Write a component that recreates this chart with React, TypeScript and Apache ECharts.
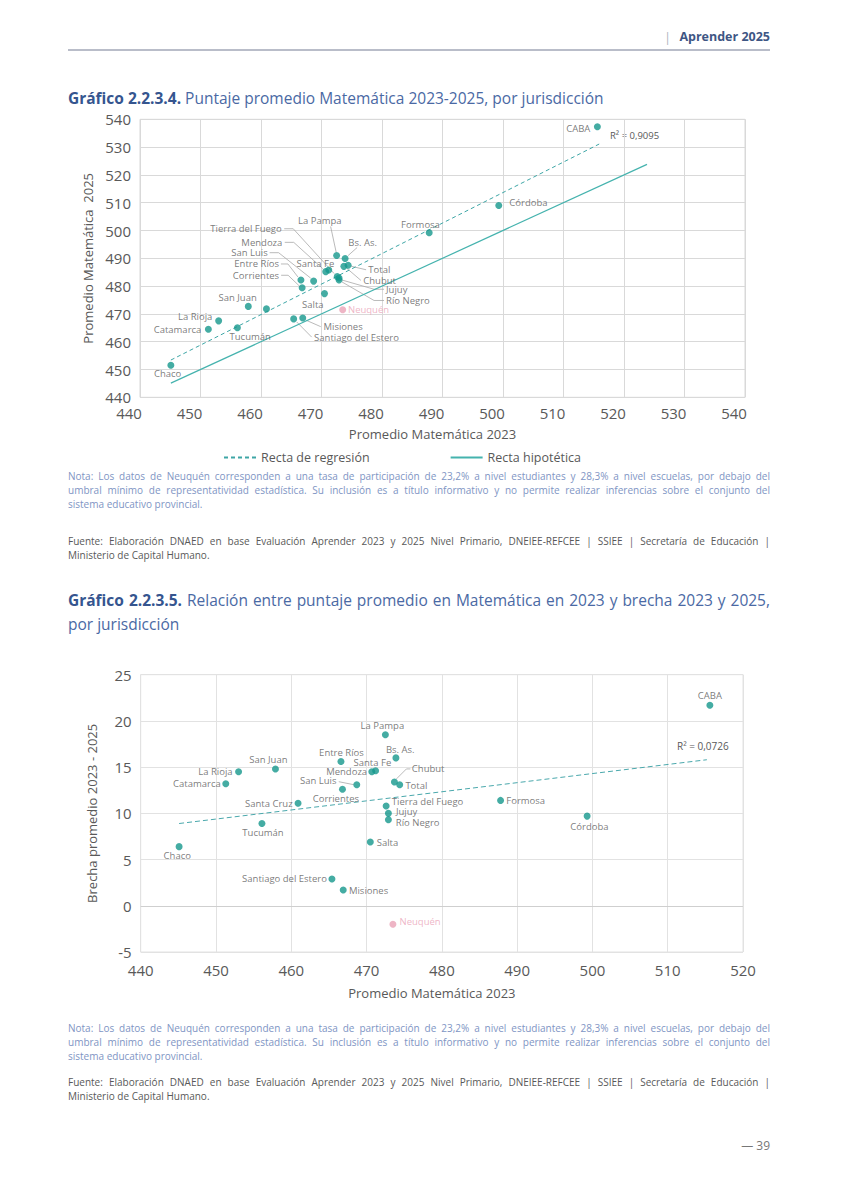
import React, { useEffect, useRef } from "react";
import * as echarts from "echarts";

// ---------- DATA ----------
const jurisdictions = [
  "CABA", "Córdoba", "Formosa", "La Pampa", "Bs. As.", "Chubut", "Total", "Santa Fe",
  "Mendoza", "Tierra del Fuego", "Jujuy", "Río Negro", "Entre Ríos", "San Luis", "Corrientes",
  "Salta", "Neuquén", "Santa Cruz", "Santiago del Estero", "Misiones", "San Juan", "La Rioja",
  "Catamarca", "Tucumán", "Chaco",
];
const math2023 = [
  515.6, 499.3, 487.8, 472.5, 473.9, 473.7, 474.4, 471.2,
  470.7, 472.6, 472.9, 472.9, 466.6, 468.7, 466.8,
  470.5, 473.5, 460.9, 465.4, 466.9, 457.9, 453.0,
  451.3, 456.1, 445.1,
];
const math2025 = [
  537.3, 509.0, 499.2, 491.0, 489.9, 487.1, 487.5, 485.8,
  485.2, 483.4, 482.9, 482.2, 482.2, 481.8, 479.4,
  477.3, 471.5, 471.8, 468.2, 468.5, 472.7, 467.5,
  464.5, 465.0, 451.5,
];
const brecha = [
  21.7, 9.7, 11.4, 18.5, 16.0, 13.4, 13.1, 14.6,
  14.5, 10.8, 10.0, 9.3, 15.6, 13.1, 12.6,
  6.9, -2.0, 11.1, 2.9, 1.7, 14.8, 14.5,
  13.2, 8.9, 6.4,
];
// line end points
const regression1X = [445.1, 515.9];
const regression1Y = [453.4, 531.1];
const hypotheticalX = [445.1, 523.8];
const hypotheticalY = [445.1, 523.8];
const regression2X = [445.1, 515.2];
const regression2Y = [8.9, 15.8];
const r2Chart1 = "R² = 0,9095";
const r2Chart2 = "R² = 0,0726";
const excluded = "Neuquén";
const unlabeled1 = ["Santa Cruz"];

// ---------- LABEL PLACEMENT (styling) ----------
type LP = [number, number, string, number[][]?];
const labels1: Record<string, LP> = {
  "CABA": [-7, 2, "right"],
  "Córdoba": [10.6, -2.7, "left"],
  "Formosa": [-8.7, -8, "center"],
  "La Pampa": [-16.8, -35, "center", [[-0.5, -3.5], [-6, -29]]],
  "Bs. As.": [17.5, -16, "center", [[3, -3], [12, -11]]],
  "Chubut": [19.4, 14, "left", [[3, 2], [17, 14]]],
  "Total": [20.2, 4.5, "left", [[3, 1], [18, 4.5]]],
  "Santa Fe": [-13.3, -6.7, "center"],
  "Mendoza": [-43.4, -29.3, "right", [[-3, -3], [-32, -29.3], [-41, -29.3]]],
  "Tierra del Fuego": [-55.5, -47.9, "right", [[-3, -3], [-44, -47.9], [-53, -47.9]]],
  "Jujuy": [47, 11.2, "left", [[3, 2], [35, 11.2], [45, 11.2]]],
  "Río Negro": [47, 20.5, "left", [[3, 2], [35, 20.5], [45, 20.5]]],
  "Entre Ríos": [-21.9, -16, "right", [[-3, -3], [-13, -16], [-20, -16]]],
  "San Luis": [-45.9, -28.4, "right", [[-3, -3], [-35, -28.4], [-44, -28.4]]],
  "Corrientes": [-23, -12.5, "right", [[-3, -2], [-14, -12.5], [-21, -12.5]]],
  "Salta": [-11.7, 10.6, "center"],
  "Neuquén": [5.3, 0, "left"],
  "Santiago del Estero": [20.4, 18.2, "left", [[3, 3], [18, 18.2]]],
  "Misiones": [20.7, 8.6, "left", [[3, 2], [18, 8.6]]],
  "San Juan": [-10.7, -9, "center"],
  "La Rioja": [-6.3, -4, "right"],
  "Catamarca": [-7, 0, "right"],
  "Tucumán": [12.8, 9, "center"],
  "Chaco": [-3.2, 8, "center"],
};
const labels2: Record<string, LP> = {
  "CABA": [0, -10, "center"],
  "Formosa": [5.7, 0, "left"],
  "Córdoba": [2.3, 10, "center"],
  "La Pampa": [-3, -9, "center"],
  "Entre Ríos": [0.5, -9, "center"],
  "Bs. As.": [4.3, -8, "center"],
  "Santa Fe": [-3.2, -8, "center"],
  "Mendoza": [-4.7, 0, "right"],
  "San Luis": [-20.3, -4, "right", [[-3, 0], [-18, -3]]],
  "Corrientes": [-6.6, 9, "center"],
  "Chubut": [17.4, -13, "left", [[2, -3], [12, -13], [16, -13]]],
  "Total": [5.7, 1, "left"],
  "Tierra del Fuego": [5.7, -4, "left"],
  "Jujuy": [7.6, -1.7, "left"],
  "Río Negro": [7.4, 2.6, "left"],
  "Salta": [6.4, 0, "left"],
  "La Rioja": [-6, 0, "right"],
  "San Juan": [-7.1, -9, "center"],
  "Catamarca": [-5, 0, "right"],
  "Santa Cruz": [-5.4, 0.7, "right"],
  "Tucumán": [1.1, 9, "center"],
  "Chaco": [-1.8, 9, "center"],
  "Santiago del Estero": [-5, 0, "right"],
  "Misiones": [5.7, 0.7, "left"],
  "Neuquén": [6.6, -2.3, "left"],
};

const FONT = "'Open Sans', sans-serif";
const TEAL = "#15978c";
const PINK = "#eaa3b7";
const TXT = "#595959";

function scatterData(xs: number[], ys: number[], lp: Record<string, LP>, hidden: string[]) {
  return jurisdictions.map((name, i) => {
    const l = lp[name];
    const isEx = name === excluded;
    return {
      name,
      value: [xs[i], ys[i]],
      itemStyle: { color: isEx ? PINK : TEAL },
      label: l && !hidden.includes(name)
        ? { show: true, offset: [l[0], l[1]], align: l[2], color: isEx ? PINK : TXT }
        : { show: false },
    };
  });
}

function leaderData(xs: number[], ys: number[], lp: Record<string, LP>) {
  const out: number[][] = [];
  jurisdictions.forEach((name, i) => {
    const l = lp[name];
    if (l && l[3]) out.push([xs[i], ys[i], i]);
  });
  return out;
}

function leaderSeries(xs: number[], ys: number[], lp: Record<string, LP>, axisIdx: number) {
  return {
    type: "custom",
    xAxisIndex: axisIdx,
    yAxisIndex: axisIdx,
    silent: true,
    z: 1,
    data: leaderData(xs, ys, lp),
    renderItem: (params: any, api: any) => {
      const idx = api.value(2);
      const p = api.coord([api.value(0), api.value(1)]);
      const offs = lp[jurisdictions[idx]][3] as number[][];
      return {
        type: "polyline",
        shape: { points: offs.map((o) => [p[0] + o[0], p[1] + o[1]]) },
        style: { stroke: "#a8a8a8", lineWidth: 0.8, fill: null },
      };
    },
  };
}

const baseLabel = {
  position: "inside",
  formatter: "{b}",
  fontSize: 9.5,
  lineHeight: 9,
  fontFamily: FONT,
  color: TXT,
  verticalAlign: "middle",
  textBorderWidth: 0,
  textBorderColor: "transparent",
};

function axisCommon() {
  return {
    type: "value",
    axisLine: { show: false },
    axisTick: { show: false },
    splitLine: { show: true, lineStyle: { color: "#d9d9d9", width: 1 } },
  };
}

function buildOption() {
  return {
    animation: false,
    textStyle: { fontFamily: FONT },
    grid: [
      { left: 140, top: 119.3, width: 605, height: 278, show: true, borderColor: "#d9d9d9", borderWidth: 1 },
      { left: 140.7, top: 674.7, width: 602.3, height: 277.3, show: true, borderColor: "#e2e2e2", borderWidth: 1 },
    ],
    legend: {
      show: true,
      data: ["Recta de regresión", "Recta hipotética"],
      left: 218,
      top: 446,
      itemWidth: 32,
      itemHeight: 10,
      itemGap: 80,
      itemStyle: { opacity: 0, borderWidth: 0 },
      textStyle: { fontSize: 12.5, color: TXT, fontFamily: FONT },
    },
    xAxis: [
      {
        ...axisCommon(),
        gridIndex: 0,
        min: 440,
        max: 540,
        interval: 10,
        axisLabel: { fontSize: 15, color: TXT, fontFamily: FONT, margin: 8, padding: [0, 22, 0, 0] },
        name: "Promedio Matemática 2023",
        nameLocation: "middle",
        nameGap: 30,
        nameTextStyle: { fontSize: 13, color: TXT, fontFamily: FONT, padding: [0, 20, 0, 0] },
      },
      {
        ...axisCommon(),
        gridIndex: 1,
        min: 440,
        max: 520,
        interval: 10,
        splitLine: { show: true, lineStyle: { color: "#e2e2e2", width: 1 } },
        axisLabel: { fontSize: 15, color: TXT, fontFamily: FONT, margin: 10 },
        name: "Promedio Matemática 2023",
        nameLocation: "middle",
        nameGap: 34,
        nameTextStyle: { fontSize: 13, color: TXT, fontFamily: FONT, padding: [0, 20, 0, 0] },
      },
    ],
    yAxis: [
      {
        ...axisCommon(),
        gridIndex: 0,
        min: 440,
        max: 540,
        interval: 10,
        axisLabel: { fontSize: 15, color: TXT, fontFamily: FONT, margin: 9 },
        name: "Promedio Matemática  2025",
        nameLocation: "middle",
        nameGap: 42,
        nameTextStyle: { fontSize: 13, color: TXT, fontFamily: FONT },
      },
      {
        ...axisCommon(),
        gridIndex: 1,
        min: -5,
        max: 25,
        interval: 5,
        splitLine: { show: true, lineStyle: { color: "#e2e2e2", width: 1 } },
        axisLabel: { fontSize: 15, color: TXT, fontFamily: FONT, margin: 9 },
        name: "Brecha promedio 2023 - 2025",
        nameLocation: "middle",
        nameGap: 42,
        nameTextStyle: { fontSize: 13, color: TXT, fontFamily: FONT },
      },
    ],
    series: [
      leaderSeries(math2023, math2025, labels1, 0),
      {
        name: "Recta de regresión",
        type: "line",
        xAxisIndex: 0,
        yAxisIndex: 0,
        symbol: "none",
        silent: true,
        z: 2,
        data: regression1X.map((x, i) => [x, regression1Y[i]]),
        lineStyle: { color: "#3ea6a6", width: 1, type: [4, 3] },
        itemStyle: { color: "#3ea6a6" },
      },
      {
        name: "Recta hipotética",
        type: "line",
        xAxisIndex: 0,
        yAxisIndex: 0,
        symbol: "none",
        silent: true,
        z: 2,
        data: hypotheticalX.map((x, i) => [x, hypotheticalY[i]]),
        lineStyle: { color: "#45b3ae", width: 1.2, type: "solid" },
        itemStyle: { color: "#45b3ae" },
      },
      {
        name: "Jurisdicciones 1",
        type: "scatter",
        xAxisIndex: 0,
        yAxisIndex: 0,
        symbolSize: 7,
        z: 3,
        label: baseLabel,
        data: scatterData(math2023, math2025, labels1, unlabeled1),
      },
      leaderSeries(math2023, brecha, labels2, 1),
      {
        name: "Regresión 2",
        type: "line",
        xAxisIndex: 1,
        yAxisIndex: 1,
        symbol: "none",
        silent: true,
        z: 2,
        data: regression2X.map((x, i) => [x, regression2Y[i]]),
        lineStyle: { color: "#4aa8ac", width: 1, type: [5, 3] },
        markLine: {
          silent: true,
          symbol: "none",
          label: { show: false },
          lineStyle: { color: "#cfcfcf", width: 1, type: "solid" },
          data: [{ yAxis: 0 }],
        },
      },
      {
        name: "Jurisdicciones 2",
        type: "scatter",
        xAxisIndex: 1,
        yAxisIndex: 1,
        symbolSize: 7,
        z: 3,
        label: baseLabel,
        data: scatterData(math2023, brecha, labels2, []),
      },
    ],
    graphic: [
      {
        type: "text",
        left: 610,
        top: 130,
        style: { text: r2Chart1, fontSize: 9.5, fill: TXT, fontFamily: FONT },
      },
      {
        type: "text",
        left: 677,
        top: 741,
        style: { text: r2Chart2, fontSize: 10, fill: TXT, fontFamily: FONT },
      },
    ],
  };
}

const NOTE_COLOR = "#8095c4";
const note = [
  "Nota: Los datos de Neuquén corresponden a una tasa de participación de 23,2% a nivel estudiantes y 28,3% a nivel escuelas, por debajo del",
  "umbral mínimo de representatividad estadística. Su inclusión es a título informativo y no permite realizar inferencias sobre el conjunto del",
  "sistema educativo provincial.",
];
const source = [
  "Fuente: Elaboración DNAED en base Evaluación Aprender 2023 y 2025 Nivel Primario, DNEIEE-REFCEE | SSIEE | Secretaría de Educación |",
  "Ministerio de Capital Humano.",
];

function Lines({ lines, top, color, size, lh }: { lines: string[]; top: number; color: string; size: number; lh: number }) {
  return (
    <div style={{ position: "absolute", left: 68, top, width: 702, fontSize: size, lineHeight: lh + "px", color }}>
      {lines.map((l, i) => {
        const last = i === lines.length - 1;
        return (
          <div key={i} style={{ whiteSpace: "nowrap", textAlign: last ? "left" : "justify", textAlignLast: last ? "left" : "justify" } as any}>
            {l}
          </div>
        );
      })}
    </div>
  );
}

export default function App() {
  const ref = useRef<HTMLDivElement>(null);
  useEffect(() => {
    const chart = echarts.init(ref.current!, null, { renderer: "svg" });
    chart.setOption(buildOption() as any);
    return () => chart.dispose();
  }, []);
  const titleBold = "#35558f";
  const titleReg = "#4a69a4";
  return (
    <div style={{ position: "absolute", left: 0, top: 0, width: 849, height: 1200, background: "#fff", fontFamily: FONT, overflow: "hidden" }}>
      <div ref={ref} style={{ position: "absolute", left: 0, top: 0, width: 849, height: 1200 }} />
      {/* header */}
      <div style={{ position: "absolute", left: 664, top: 29, fontSize: 13, lineHeight: "16px", color: "#b0b4c0" }}>|</div>
      <div style={{ position: "absolute", right: 79, top: 29, fontSize: 12.5, lineHeight: "16px", color: "#3e5684", fontWeight: 700 }}>Aprender 2025</div>
      <div style={{ position: "absolute", left: 68, top: 49, width: 702, height: 2, background: "#b9bdc9" }} />
      {/* title 1 */}
      <div style={{ position: "absolute", left: 68, top: 88, fontSize: 15.5, lineHeight: "20px", color: titleReg, whiteSpace: "nowrap" }}>
        <span style={{ fontWeight: 700, color: titleBold }}>Gráfico 2.2.3.4.</span> Puntaje promedio Matemática 2023-2025, por jurisdicción
      </div>
      <Lines lines={note} top={469} color={NOTE_COLOR} size={10} lh={14} />
      <Lines lines={source} top={534} color={TXT} size={10} lh={14} />
      {/* title 2 */}
      <div style={{ position: "absolute", left: 68, top: 588, width: 702, fontSize: 15.5, lineHeight: "24px", color: titleReg }}>
        <div style={{ whiteSpace: "nowrap", textAlign: "justify", textAlignLast: "justify" } as any}>
          <span style={{ fontWeight: 700, color: titleBold }}>Gráfico 2.2.3.5.</span> Relación entre puntaje promedio en Matemática en 2023 y brecha 2023 y 2025,
        </div>
        <div>por jurisdicción</div>
      </div>
      <Lines lines={note} top={1021} color={NOTE_COLOR} size={10} lh={14} />
      <Lines lines={source} top={1075} color={TXT} size={10} lh={14} />
      <div style={{ position: "absolute", right: 79, top: 1138, fontSize: 12, lineHeight: "16px", color: "#777" }}>— 39</div>
    </div>
  );
}
